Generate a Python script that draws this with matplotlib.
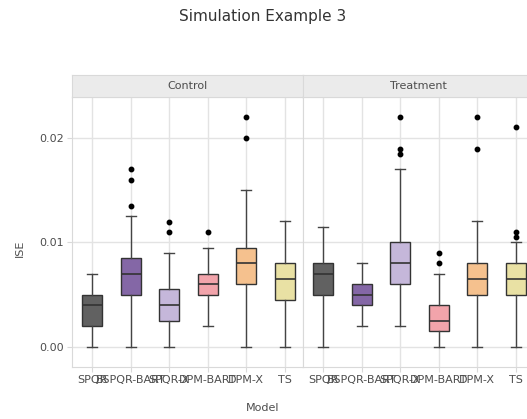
import matplotlib
matplotlib.use("Agg")
import matplotlib.pyplot as plt
from matplotlib.patches import Rectangle

models = ["SPQR", "BSPQR-BART", "SPQR-X", "DPM-BART", "DPM-X", "TS"]
colors = ["#616161", "#8467a6", "#c5b7da", "#f2a4ab", "#f5c18e", "#e9e1a4"]
groups = ["Control", "Treatment"]

# Control: whisker low, Q1, median, Q3, whisker high, outliers
ctrl_wlo = [0.0, 0.0, 0.0, 0.0020, 0.0, 0.0]
ctrl_q1 = [0.0020, 0.0050, 0.0025, 0.0050, 0.0060, 0.0045]
ctrl_med = [0.0040, 0.0070, 0.0040, 0.0060, 0.0080, 0.0065]
ctrl_q3 = [0.0050, 0.0085, 0.0055, 0.0070, 0.0095, 0.0080]
ctrl_whi = [0.0070, 0.0125, 0.0090, 0.0095, 0.0150, 0.0120]
ctrl_out = [[], [0.0135, 0.0160, 0.0170], [0.0110, 0.0119], [0.0110],
            [0.0200, 0.0220], []]

# Treatment
trt_wlo = [0.0, 0.0020, 0.0020, 0.0, 0.0, 0.0]
trt_q1 = [0.0050, 0.0040, 0.0060, 0.0015, 0.0050, 0.0050]
trt_med = [0.0070, 0.0050, 0.0080, 0.0025, 0.0065, 0.0065]
trt_q3 = [0.0080, 0.0060, 0.0100, 0.0040, 0.0080, 0.0080]
trt_whi = [0.0115, 0.0080, 0.0170, 0.0070, 0.0120, 0.0100]
trt_out = [[], [], [0.0185, 0.0189, 0.0220], [0.0080, 0.0090],
           [0.0189, 0.0220], [0.0105, 0.0110, 0.0210]]

yticks = [0.00, 0.01, 0.02]
ytick_labels = ["0.00", "0.01", "0.02"]

W, H = 527, 419
fig = plt.figure(figsize=(W / 100, H / 100), dpi=100)
fig.patch.set_facecolor("white")

def fx(px):
    return px / W

def fy(py):
    return 1 - py / H

panel_top, panel_bot = 97, 367
strip_top = 75
panel_w = 231
lefts = [72, 303]

data = [
    (ctrl_wlo, ctrl_q1, ctrl_med, ctrl_q3, ctrl_whi, ctrl_out),
    (trt_wlo, trt_q1, trt_med, trt_q3, trt_whi, trt_out),
]

grid_c = "#e3e3e3"
border_c = "#d9d9d9"
text_c = "#4d4d4d"

for gi, (grp, d) in enumerate(zip(groups, data)):
    L = lefts[gi]
    ax = fig.add_axes([fx(L), fy(panel_bot), panel_w / W, (panel_bot - panel_top) / H])
    wlo, q1, med, q3, whi, out = d
    stats = []
    for i in range(len(models)):
        stats.append(dict(whislo=wlo[i], q1=q1[i], med=med[i], q3=q3[i],
                          whishi=whi[i], fliers=out[i], label=models[i]))
    bp = ax.bxp(stats, positions=range(len(models)), widths=0.52,
                patch_artist=True, showfliers=True,
                boxprops=dict(edgecolor="#333333", linewidth=1.0),
                medianprops=dict(color="#333333", linewidth=1.2),
                whiskerprops=dict(color="#444444", linewidth=1.0),
                capprops=dict(color="#444444", linewidth=1.0),
                flierprops=dict(marker="o", markerfacecolor="black",
                                markeredgecolor="black", markersize=3.2))
    for patch, c in zip(bp["boxes"], colors):
        patch.set_facecolor(c)
    for c in bp["caps"]:
        xd = c.get_xdata()
        mid = (xd[0] + xd[1]) / 2
        c.set_xdata([mid - 0.13, mid + 0.13])
    ax.set_xlim(-0.52, 5.48)
    ax.set_ylim(-0.00194, 0.02392)
    ax.set_yticks(yticks)
    ax.set_xticks(range(len(models)))
    ax.set_xticklabels(models, fontsize=8, color=text_c)
    if gi == 0:
        ax.set_yticklabels(ytick_labels, fontsize=8, color=text_c)
    else:
        ax.tick_params(axis="y", labelleft=False, left=False)
    ax.tick_params(axis="both", color=border_c, length=3.5, width=0.8, pad=2)
    ax.grid(True, color=grid_c, linewidth=1.0)
    ax.set_axisbelow(True)
    for s in ax.spines.values():
        s.set_color(border_c)
        s.set_linewidth(0.8)
    ax.set_facecolor("white")

    # strip
    sax = fig.add_axes([fx(L), fy(panel_top), panel_w / W, (panel_top - strip_top) / H])
    sax.set_xticks([])
    sax.set_yticks([])
    sax.set_facecolor("#ebebeb")
    for s in sax.spines.values():
        s.set_color(border_c)
        s.set_linewidth(0.8)
    sax.text(0.5 if gi == 0 else (115 / panel_w) + 0.0, 0.5, grp,
             transform=sax.transAxes, ha="center", va="center",
             fontsize=8, color=text_c)

fig.text(fx(263), fy(16), "Simulation Example 3", ha="center", va="center",
         fontsize=11, color="#333333")
fig.text(fx(263), fy(408), "Model", ha="center", va="center",
         fontsize=8, color=text_c)
fig.text(fx(20), fy(248), "ISE", ha="center", va="center", rotation=90,
         fontsize=8, color=text_c)

fig.savefig("out.png", dpi=100)
